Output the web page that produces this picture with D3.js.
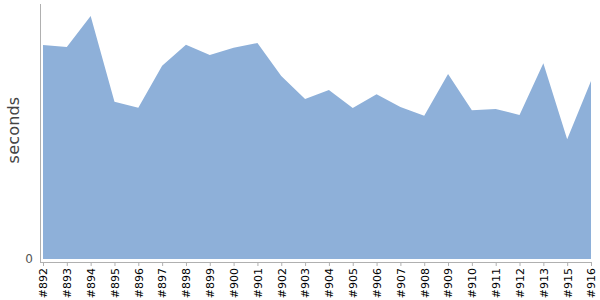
<!DOCTYPE html>
<html><head><meta charset="utf-8">
<script src="https://cdn.jsdelivr.net/npm/d3@7"></script>
<style>body{margin:0;background:#fff}svg{display:block}text{font-family:"DejaVu Sans",Verdana,sans-serif}</style>
</head><body><svg id="c" width="600" height="300"></svg>
<script>
const builds = ["#892","#893","#894","#895","#896","#897","#898","#899","#900","#901","#902","#903","#904","#905","#906","#907","#908","#909","#910","#911","#912","#913","#915","#916"];
const seconds = [214,212,243,157.3,151.3,193.3,214.3,204,211.3,216,183,160,169,151,164.7,152,143.3,185,148.7,150,144,195.7,119.7,178];
const yTicks = [0];
const yMax = 255;

const svg = d3.select("#c");
const x = d3.scalePoint().domain(builds).range([43, 591]);
const y = d3.scaleLinear().domain([0, yMax]).range([259, 4]);

svg.append("path")
  .datum(builds.map((b,i)=>({b, v: seconds[i]})))
  .attr("fill", "#8eb0d9")
  .attr("d", d3.area().x(d=>x(d.b)).y0(y(0)).y1(d=>y(d.v)));

// y axis line
svg.append("line").attr("x1",40).attr("x2",40).attr("y1",4).attr("y2",262)
  .attr("stroke","#b0b0b0").attr("stroke-width",1).attr("shape-rendering","crispEdges");
svg.selectAll(".yt").data(yTicks).enter().append("text")
  .attr("x",33).attr("y",d=>y(d)).attr("dy","0.35em").attr("text-anchor","end")
  .attr("font-size",12).attr("fill","#555").text(d=>d);

// x axis
const gx = svg.append("g").attr("transform","translate(0,262)")
  .call(d3.axisBottom(x).tickSizeInner(4).tickSizeOuter(0));
gx.attr("font-family", null);
gx.select(".domain").attr("stroke","#b0b0b0").attr("d","M40,0.5H591");
gx.selectAll(".tick line").attr("stroke","#b0b0b0");
gx.selectAll(".tick text")
  .style("font-family",'"DejaVu Sans"').attr("font-size",11).attr("fill","#000")
  .attr("transform","rotate(-90)").attr("text-anchor","end")
  .attr("x",-6).attr("y",0).attr("dy","0.35em");

svg.append("text").attr("transform","translate(19,130) rotate(-90)")
  .attr("text-anchor","middle").attr("font-size",16)
  .attr("fill","#444").attr("letter-spacing",0.2).text("seconds");
</script></body></html>
